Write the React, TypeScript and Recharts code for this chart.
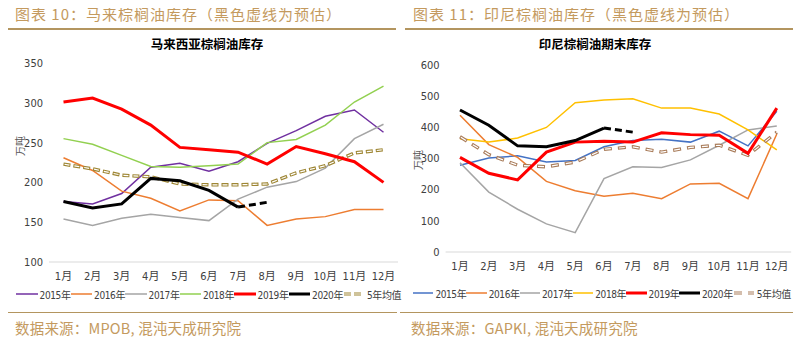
import { LineChart, Line, XAxis, YAxis } from 'recharts';

const months = ['1月', '2月', '3月', '4月', '5月', '6月', '7月', '8月', '9月', '10月', '11月', '12月'];

// 马来西亚
const my2015 = [176, 173, 186, 219, 224, 214, 226, 249, 265, 283, 291, 263];
const my2016 = [231, 215, 189, 180, 164, 178, 177, 146, 154, 157, 166, 166];
const my2017 = [154, 146, 155, 160, 156, 152, 179, 194, 201, 218, 255, 273];
const my2018 = [255, 248, 234, 220, 219, 221, 223, 250, 254, 272, 301, 321];
const my2019 = [301, 306, 292, 272, 244, 241, 238, 223, 245, 236, 226, 200];
const my2020 = [176, 168, 173, 205, 202, 190, 169, null, null, null, null, null];
const myForecast = [null, null, null, null, null, null, 169, 175, null, null, null, null];
const myAvg = [223, 217, 209, 207, 198, 197, 197, 198, 212, 221, 237, 241];
const myTicks = [100, 150, 200, 250, 300, 350];

// 印尼
const id2015 = [278, 301, 308, 288, 293, 337, 357, 361, 352, 387, 340, 451];
const id2016 = [438, 344, 303, 226, 196, 179, 188, 171, 218, 220, 171, 378];
const id2017 = [286, 192, 137, 90, 62, 235, 273, 271, 295, 342, 391, 404];
const id2018 = [363, 352, 365, 399, 478, 487, 491, 461, 461, 442, 391, 327];
const id2019 = [303, 252, 231, 320, 352, 355, 352, 382, 376, 374, 316, 461];
const id2020 = [455, 406, 340, 337, 357, 397, null, null, null, null, null, null];
const idForecast = [null, null, null, null, null, 397, 384, null, null, null, null, null];
const idAvg = [369, 312, 278, 273, 288, 329, 337, 320, 335, 342, 310, 384];
const idTicks = [0, 100, 200, 300, 400, 500, 600];

const yearLabels = ['2015年', '2016年', '2017年', '2018年', '2019年', '2020年'];

const GOLD = '#C49A5E';
const RULE = '#B3955F';
const CJK = "'Noto Sans CJK SC', sans-serif";
const NARROW = "'Liberation Sans Narrow', 'DejaVu Sans Condensed', 'Noto Sans CJK SC', sans-serif";

function makeRows(series: (number | null)[][]) {
  return months.map((m, i) => ({
    month: m,
    a: series[0][i],
    b: series[1][i],
    c: series[2][i],
    d: series[3][i],
    e: series[4][i],
    f: series[5][i],
    g: series[6][i],
    avg: series[7][i],
  }));
}

const myRows = makeRows([my2015, my2016, my2017, my2018, my2019, my2020, myForecast, myAvg]);
const idRows = makeRows([id2015, id2016, id2017, id2018, id2019, id2020, idForecast, idAvg]);

function LegendSwatch({ color, width, avg, dash }: { color: string; width: number; avg?: boolean; dash?: string }) {
  if (avg) {
    return (
      <svg width={22} height={8} style={{ display: 'block' }}>
        <line x1={1} y1={4} x2={21} y2={4} stroke={color} strokeWidth={3.2} strokeDasharray={dash} />
        <line x1={1} y1={4} x2={21} y2={4} stroke="#fff" strokeWidth={1.1} strokeDasharray={dash} />
      </svg>
    );
  }
  return (
    <svg width={23} height={8} style={{ display: 'block' }}>
      <line x1={0} y1={4} x2={23} y2={4} stroke={color} strokeWidth={width} />
    </svg>
  );
}

type PanelProps = {
  left: number;
  header: string;
  headerX: number;
  headerRule: [number, number];
  footRule: [number, number];
  chartTitle: string;
  titleCenter: number;
  source: string;
  sourceX: number;
  rows: any[];
  colors: string[];
  avgColor: string;
  avgDash: string;
  avgInner: string;
  domain: [number, number];
  ticks: number[];
  chartHeight: number;
  margin: { top: number; right: number; left: number; bottom: number };
  yWidth: number;
  xPad: number;
  unitPos: [number, number];
  legendX: number;
  legendY: number;
  legendStep: number;
};

function Panel(p: PanelProps) {
  const widths = [1.5, 1.5, 1.5, 1.5, 3, 3];
  return (
    <div style={{ position: 'absolute', left: p.left, top: 0, width: 401, height: 346 }}>
      <div
        style={{
          position: 'absolute',
          left: p.headerX,
          top: 4,
          lineHeight: '20px',
          fontSize: 15,
          letterSpacing: 1,
          color: GOLD,
          fontFamily: CJK,
          whiteSpace: 'nowrap',
        }}
      >
        {p.header}
      </div>
      <div
        style={{
          position: 'absolute',
          left: p.headerRule[0],
          width: p.headerRule[1] - p.headerRule[0],
          top: 28,
          height: 2,
          background: RULE,
        }}
      />
      <div
        style={{
          position: 'absolute',
          left: p.titleCenter - 100,
          width: 200,
          top: 36,
          lineHeight: '16px',
          textAlign: 'center',
          fontSize: 12.5,
          fontWeight: 700,
          color: '#000',
          fontFamily: CJK,
        }}
      >
        {p.chartTitle}
      </div>
      <div
        style={{
          position: 'absolute',
          left: p.unitPos[0] - 15,
          top: p.unitPos[1] - 7,
          width: 30,
          lineHeight: '14px',
          textAlign: 'center',
          fontSize: 10,
          color: '#595959',
          fontFamily: CJK,
          transform: 'rotate(-90deg)',
        }}
      >
        万吨
      </div>
      <div style={{ position: 'absolute', left: 0, top: 0 }}>
        <LineChart width={400} height={p.chartHeight} data={p.rows} margin={p.margin}>
          <XAxis
            dataKey="month"
            scale="point"
            padding={{ left: p.xPad, right: p.xPad }}
            axisLine={{ stroke: '#D9D9D9' }}
            tickLine={false}
            tickMargin={4}
            interval={0}
            tick={{ fontSize: 11, fill: '#404040', fontFamily: NARROW }}
          />
          <YAxis
            domain={p.domain}
            ticks={p.ticks}
            width={p.yWidth}
            axisLine={false}
            tickLine={false}
            tickMargin={0}
            interval={0}
            tick={{ fontSize: 11, fill: '#404040', fontFamily: NARROW }}
          />
          <Line type="linear" dataKey="a" stroke={p.colors[0]} strokeWidth={1.5} dot={false} isAnimationActive={false} />
          <Line type="linear" dataKey="b" stroke={p.colors[1]} strokeWidth={1.5} dot={false} isAnimationActive={false} />
          <Line type="linear" dataKey="c" stroke={p.colors[2]} strokeWidth={1.5} dot={false} isAnimationActive={false} />
          <Line type="linear" dataKey="d" stroke={p.colors[3]} strokeWidth={1.5} dot={false} isAnimationActive={false} />
          <Line
            type="linear"
            dataKey="avg"
            stroke={p.avgColor}
            strokeWidth={3.4}
            strokeDasharray={p.avgDash}
            dot={false}
            isAnimationActive={false}
          />
          <Line
            type="linear"
            dataKey="avg"
            stroke="#fff"
            strokeWidth={1.2}
            strokeDasharray={p.avgInner}
            strokeDashoffset={-1}
            dot={false}
            isAnimationActive={false}
          />
          <Line type="linear" dataKey="e" stroke={p.colors[4]} strokeWidth={3} dot={false} isAnimationActive={false} />
          <Line type="linear" dataKey="f" stroke={p.colors[5]} strokeWidth={3} dot={false} isAnimationActive={false} />
          <Line
            type="linear"
            dataKey="g"
            stroke={p.colors[5]}
            strokeWidth={3}
            strokeDasharray="7 4"
            dot={false}
            isAnimationActive={false}
          />
        </LineChart>
      </div>
      <div
        style={{
          position: 'absolute',
          left: p.legendX,
          top: p.legendY - 8,
          height: 16,
          display: 'flex',
          alignItems: 'center',
          fontSize: 10,
          letterSpacing: -0.4,
          color: '#404040',
          fontFamily: NARROW,
          whiteSpace: 'nowrap',
        }}
      >
        {yearLabels.map((y, i) => (
          <div key={y} style={{ display: 'flex', alignItems: 'center', width: p.legendStep }}>
            <LegendSwatch color={p.colors[i]} width={widths[i]} />
            <span style={{ marginLeft: 2 }}>{y}</span>
          </div>
        ))}
        <div style={{ display: 'flex', alignItems: 'center' }}>
          <LegendSwatch color={p.avgColor} width={3} avg dash={p.avgDash} />
          <span style={{ marginLeft: 2 }}>5年均值</span>
        </div>
      </div>
      <div
        style={{
          position: 'absolute',
          left: p.footRule[0],
          width: p.footRule[1] - p.footRule[0],
          top: 312,
          height: 1,
          background: RULE,
        }}
      />
      <div
        style={{
          position: 'absolute',
          left: p.sourceX,
          top: 318,
          lineHeight: '20px',
          fontSize: 14.5,
          letterSpacing: 0.2,
          color: GOLD,
          fontFamily: CJK,
          whiteSpace: 'nowrap',
        }}
      >
        {p.source}
      </div>
    </div>
  );
}

export default function App() {
  return (
    <div style={{ position: 'relative', width: 802, height: 346, background: '#fff', margin: -8, overflow: 'hidden' }}>
      <Panel
        left={0}
        header="图表 10：马来棕榈油库存（黑色虚线为预估）"
        headerX={15}
        headerRule={[5, 396]}
        footRule={[5, 397]}
        chartTitle="马来西亚棕榈油库存"
        titleCenter={207}
        source="数据来源：MPOB, 混沌天成研究院"
        sourceX={15}
        rows={myRows}
        colors={['#7030A0', '#ED7D31', '#A5A5A5', '#92D050', '#FF0000', '#000000']}
        avgColor="#9E8634"
        avgDash="7 3"
        avgInner="5 5"
        domain={[100, 350]}
        ticks={myTicks}
        chartHeight={300}
        margin={{ top: 63, right: 2, left: 0, bottom: 8 }}
        yWidth={49}
        xPad={14.5}
        unitPos={[20, 146]}
        legendX={16}
        legendY={294}
        legendStep={54.5}
      />
      <Panel
        left={400}
        header="图表 11：印尼棕榈油库存（黑色虚线为预估）"
        headerX={13}
        headerRule={[5, 393]}
        footRule={[0, 393]}
        chartTitle="印尼棕榈油期末库存"
        titleCenter={195}
        source="数据来源：GAPKI, 混沌天成研究院"
        sourceX={11}
        rows={idRows}
        colors={['#4472C4', '#ED7D31', '#A5A5A5', '#FFC000', '#FF0000', '#000000']}
        avgColor="#A97C5A"
        avgDash="8 6"
        avgInner="6 8"
        domain={[0, 600]}
        ticks={idTicks}
        chartHeight={290}
        margin={{ top: 64.7, right: 8.8, left: 0, bottom: 8 }}
        yWidth={45.6}
        xPad={14.4}
        unitPos={[18, 160]}
        legendX={13}
        legendY={293}
        legendStep={53.3}
      />
    </div>
  );
}
